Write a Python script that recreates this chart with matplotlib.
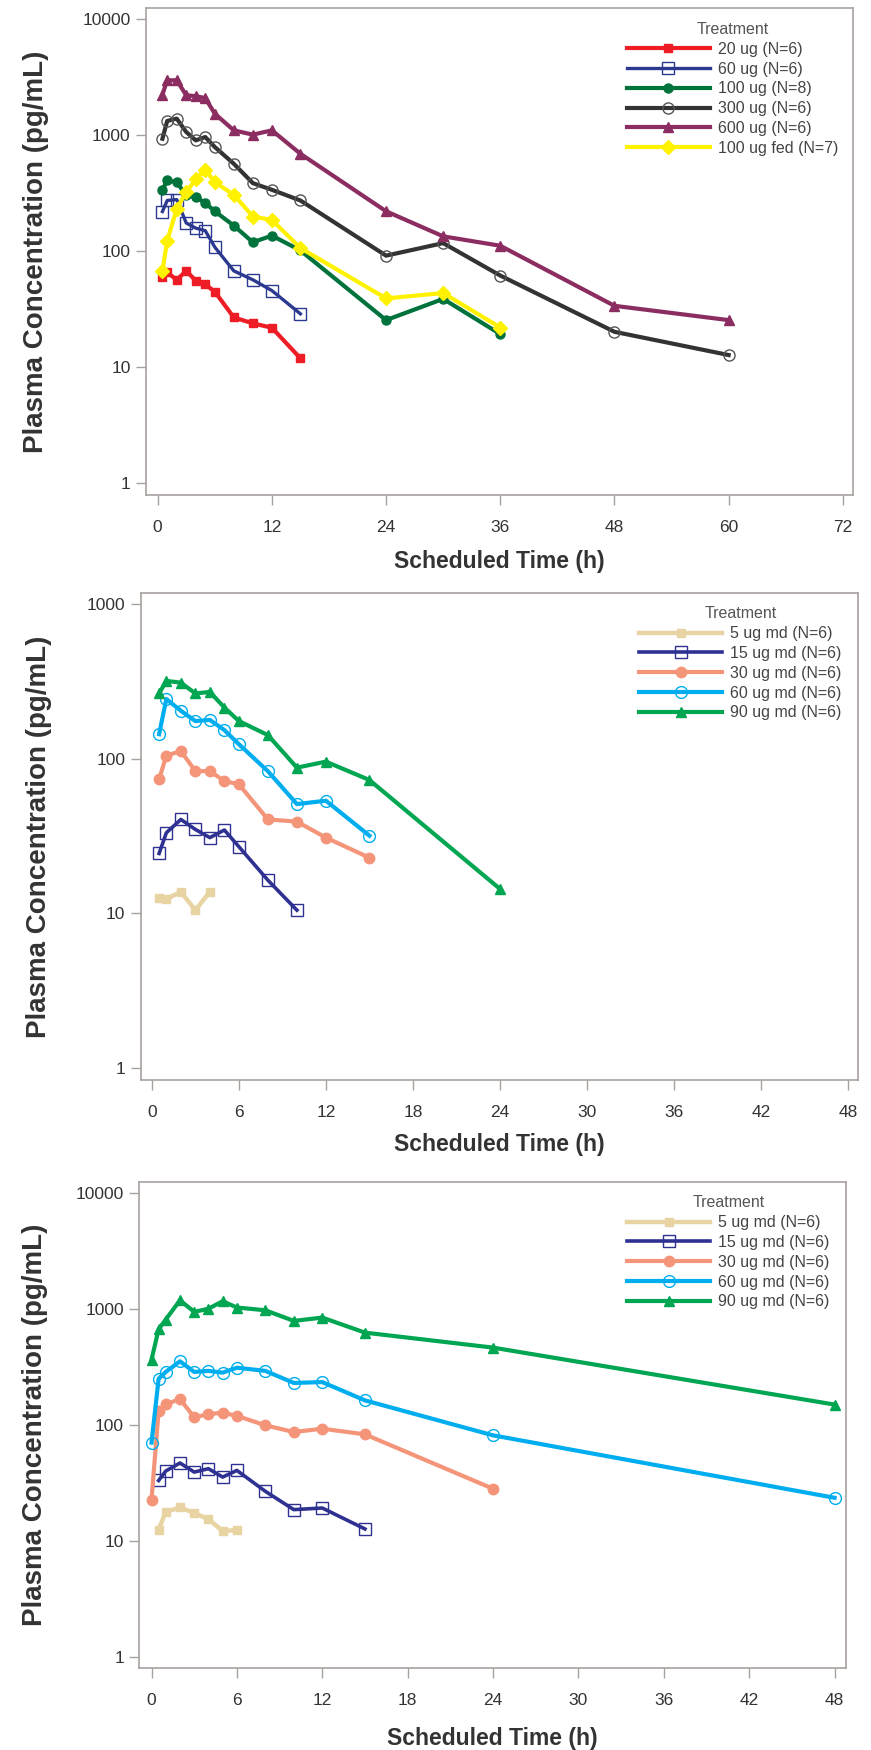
import matplotlib
matplotlib.use('Agg')
import matplotlib.pyplot as plt
from matplotlib.ticker import FixedLocator, FixedFormatter

plt.rcParams['font.family'] = ['Liberation Sans', 'DejaVu Sans']

# ---- panel 1: single dose ----
t_sd = [0.5, 1, 2, 3, 4, 5, 6, 8, 10, 12, 15, 24, 30, 36, 48, 60]

sd_labels = ['20 ug (N=6)', '60 ug (N=6)', '100 ug (N=8)', '300 ug (N=6)',
             '600 ug (N=6)', '100 ug fed (N=7)']
c20 = [60, 66, 57, 68, 56, 52, 45, 27, 24, 22, 12]
c60 = [221, 275, 280, 176, 159, 151, 109, 68, 57, 46, 29]
c100 = [340, 409, 396, 304, 294, 262, 222, 167, 120, 137, 102, 25.6, 39, 19.4]
c300 = [937, 1333, 1396, 1071, 907, 969, 795, 570, 388, 340, 275, 92, 118, 62, 20.3, 12.8]
c600 = [2250, 2990, 2990, 2220, 2180, 2100, 1540, 1107, 1016, 1107, 695, 222, 135, 112, 34, 25.6]
c100fed = [68, 124, 233, 325, 418, 506, 396, 308, 200, 187, 107, 39.4, 43.8, 22.1]

# ---- panel 2: multiple dose, day 1 ----
t_md1 = [0.5, 1, 2, 3, 4, 5, 6, 8, 10, 12, 15, 24]
md_labels = ['5 ug md (N=6)', '15 ug md (N=6)', '30 ug md (N=6)',
             '60 ug md (N=6)', '90 ug md (N=6)']
d1_5 = [12.5, 12.4, 13.8, 10.5, 13.8]
d1_15 = [24.4, 33.2, 40.5, 34.9, 30.9, 34.6, 27, 16.4, 10.5]
d1_30 = [73.5, 104.6, 112, 83.2, 83, 71.7, 68.3, 40.5, 39.2, 30.9, 22.9]
d1_60 = [144, 243, 204, 175, 178, 153, 124, 83, 50.9, 53.5, 31.8]
d1_90 = [264, 318, 310, 264, 270, 214, 175, 142, 87.5, 95.7, 72.8, 14.4]

# ---- panel 3: multiple dose, steady state ----
t_md2 = [0, 0.5, 1, 2, 3, 4, 5, 6, 8, 10, 12, 15, 24, 48]
t_md2_low = [0.5, 1, 2, 3, 4, 5, 6, 8, 10, 12, 15]
d2_5 = [12.4, 17.7, 19.3, 17.3, 15.3, 12.1, 12.3]
d2_15 = [33, 39.8, 46.7, 39, 41.7, 35.3, 40.3, 26.6, 18.5, 19.1, 12.6]
d2_30 = [22.5, 131, 150, 166, 116, 123, 127, 119, 98.7, 86.4, 92.3, 82.5, 28]
d2_60 = [70, 249, 285, 352, 285, 291, 281, 310, 291, 229, 233, 162, 80.9, 23.4]
d2_90 = [364, 665, 806, 1184, 939, 1000, 1161, 1024, 970, 785, 839, 622, 462, 149]

spine_col = '#A8A29E'
text_col = '#333333'

sd_styles = [
    dict(color='#EE1C25', marker='s', ms=5.5, lw=3),
    dict(color='#2B3990', marker='s', ms=8, mfc='none', mew=1, lw=2.4),
    dict(color='#00733C', marker='o', ms=6.5, lw=3),
    dict(color='#333333', marker='o', ms=8, mfc='none', mec='#555555', mew=1, lw=3),
    dict(color='#8C2D62', marker='^', ms=7, lw=3),
    dict(color='#FFF200', marker='D', ms=7.5, lw=3),
]
md_styles = [
    dict(color='#E8D3A2', marker='s', ms=6, lw=3.2),
    dict(color='#2E3192', marker='s', ms=8, mfc='none', mew=1, lw=2.6),
    dict(color='#F4957A', marker='o', ms=7.5, lw=3),
    dict(color='#00AEEF', marker='o', ms=8.5, mfc='none', mew=1, lw=3),
    dict(color='#00A651', marker='^', ms=7.5, lw=3),
]

fig = plt.figure(figsize=(8.71, 17.5), dpi=100)
ax1 = fig.add_axes([0.1676, 0.7173, 0.8121, 0.2779])
ax2 = fig.add_axes([0.1615, 0.3829, 0.8239, 0.2781])
ax3 = fig.add_axes([0.1599, 0.0470, 0.8110, 0.2777])

sd_series = [c20, c60, c100, c300, c600, c100fed]
for vals, lab, st in zip(sd_series, sd_labels, sd_styles):
    ax1.plot(t_sd[:len(vals)], vals, label=lab, **st)

md1_series = [d1_5, d1_15, d1_30, d1_60, d1_90]
for vals, lab, st in zip(md1_series, md_labels, md_styles):
    ax2.plot(t_md1[:len(vals)], vals, label=lab, **st)

ax3.plot(t_md2_low[:len(d2_5)], d2_5, label=md_labels[0], **md_styles[0])
ax3.plot(t_md2_low[:len(d2_15)], d2_15, label=md_labels[1], **md_styles[1])
ax3.plot(t_md2[:len(d2_30)], d2_30, label=md_labels[2], **md_styles[2])
ax3.plot(t_md2, d2_60, label=md_labels[3], **md_styles[3])
ax3.plot(t_md2, d2_90, label=md_labels[4], **md_styles[4])

setup = [
    (ax1, (-1.23, 73.1), (0.80, 12450), list(range(0, 73, 12)), [1, 10, 100, 1000, 10000], (0.680, 0.972), -0.138, -0.156),
    (ax2, (-0.77, 48.7), (0.84, 1172), list(range(0, 49, 6)), [1, 10, 100, 1000], (0.695, 0.973), -0.133, -0.1416),
    (ax3, (-0.86, 48.78), (0.80, 12450), list(range(0, 49, 6)), [1, 10, 100, 1000, 10000], (0.691, 0.972), -0.146, -0.147),
]

for ax, xl, yl, xt, yt, legpos, xlab_y, ylab_x in setup:
    ax.set_yscale('log')
    ax.set_xlim(*xl)
    ax.set_ylim(*yl)
    ax.xaxis.set_major_locator(FixedLocator(xt))
    ax.yaxis.set_major_locator(FixedLocator(yt))
    ax.yaxis.set_major_formatter(FixedFormatter([str(v) for v in yt]))
    ax.yaxis.set_minor_locator(FixedLocator([]))
    for s in ax.spines.values():
        s.set_color(spine_col)
        s.set_linewidth(1.2)
    ax.tick_params(axis='x', length=7, width=1, color=spine_col, pad=11,
                   labelsize=12.5, labelcolor=text_col)
    ax.tick_params(axis='y', length=7, width=1, color=spine_col, pad=4,
                   labelsize=12.5, labelcolor=text_col)
    ax.set_xlabel('Scheduled Time (h)', fontsize=16.5, fontweight='bold', color=text_col)
    ax.set_ylabel('Plasma Concentration (pg/mL)', fontsize=20, fontweight='bold', color=text_col)
    ax.xaxis.set_label_coords(0.5, xlab_y)
    ax.xaxis.label.set_va('center')
    ax.yaxis.set_label_coords(ylab_x, 0.5)
    ax.yaxis.label.set_va('center')
    leg = ax.legend(loc='upper left', bbox_to_anchor=legpos, frameon=False,
                    title='Treatment', fontsize=11.5, title_fontsize=11.5,
                    handlelength=5.2, handletextpad=0.5, labelspacing=0.3,
                    borderpad=0, borderaxespad=0)
    leg.get_title().set_color('#555555')
    for t in leg.get_texts():
        t.set_color('#444444')

fig.savefig('out.png', dpi=100, facecolor='white')
